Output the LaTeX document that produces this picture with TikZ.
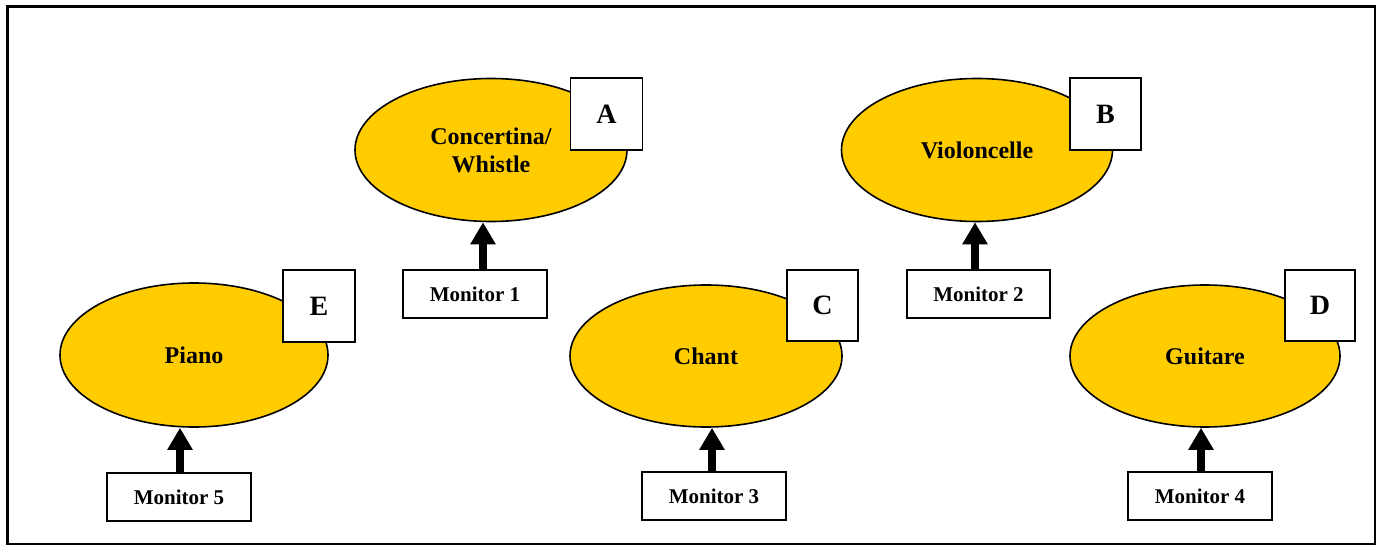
\documentclass[tikz,border=0pt]{standalone}
\usepackage{fontspec}
\setmainfont{Liberation Serif}
\usetikzlibrary{shapes.geometric,arrows.meta}
\definecolor{gold}{RGB}{255,204,0}
\tikzset{
  inst/.style={ellipse, draw=black, line width=1.6pt, fill=gold, inner sep=0pt, font=\fontsize{24}{28}\selectfont\bfseries, align=center},
  tag/.style={rectangle, draw=black, line width=1.6pt, fill=white, inner sep=0pt, font=\fontsize{28}{30}\selectfont\bfseries},
  mon/.style={rectangle, draw=black, line width=1.6pt, fill=white, inner sep=0pt, font=\fontsize{21}{22}\selectfont\bfseries},
  feed/.style={line width=7.5pt, -{Triangle[width=24pt,length=22pt]}, shorten >=0pt}
}
\begin{document}
\begin{tikzpicture}[x=1pt,y=-1pt]
\useasboundingbox (0,0) rectangle (1381,545);
\draw[line width=2.4pt] (7.5,6.5) rectangle (1375,544);
% ellipses
\node[inst, minimum width=272pt, minimum height=143pt] (ea) at (491,150) {Concertina/\\Whistle};
\node[inst, minimum width=271pt, minimum height=143pt] (eb) at (977,150) {Violoncelle};
\node[inst, minimum width=272pt, minimum height=142pt] (ec) at (706,356) {Chant};
\node[inst, minimum width=270pt, minimum height=142pt] (ed) at (1205,356) {Guitare};
\node[inst, minimum width=268pt, minimum height=144pt] (ee) at (194,355) {Piano};
% letter tags
\node[tag, minimum width=72pt, minimum height=72pt] (ta) at (606.5,114) {A};
\node[tag, minimum width=71pt, minimum height=72pt] (tb) at (1105.5,114) {B};
\node[tag, minimum width=71pt, minimum height=71pt] (tc) at (822.5,305.5) {C};
\node[tag, minimum width=70pt, minimum height=71pt] (td) at (1320,305.5) {D};
\node[tag, minimum width=72pt, minimum height=72pt] (te) at (319,306) {E};
% monitors
\node[mon, minimum width=144pt, minimum height=48pt] (m1) at (475,294) {Monitor 1};
\node[mon, minimum width=143pt, minimum height=48pt] (m2) at (978.5,294) {Monitor 2};
\node[mon, minimum width=144pt, minimum height=48pt] (m3) at (714,496) {Monitor 3};
\node[mon, minimum width=144pt, minimum height=48pt] (m4) at (1200,496) {Monitor 4};
\node[mon, minimum width=144pt, minimum height=48pt] (m5) at (179,497) {Monitor 5};
% arrows
\draw[feed] (m1.north -| 483,0) -- (ea.south -| 483,0);
\draw[feed] (m2.north -| 975,0) -- (eb.south -| 975,0);
\draw[feed] (m3.north -| 712,0) -- (ec.south -| 712,0);
\draw[feed] (m4.north -| 1201,0) -- (ed.south -| 1201,0);
\draw[feed] (m5.north -| 180,0) -- (ee.south -| 180,0);
\end{tikzpicture}
\end{document}
